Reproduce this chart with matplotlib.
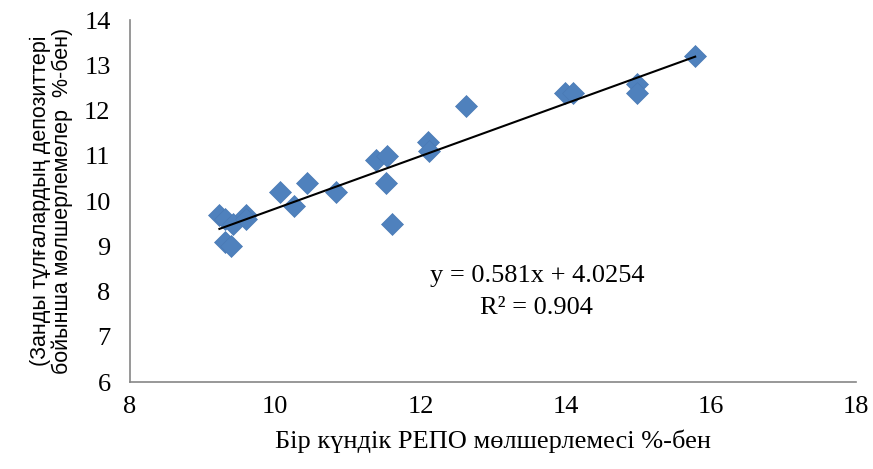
import numpy as np
import matplotlib.pyplot as plt

# overnight REPO rate (%) vs corporate deposit rate (%)
repo = [9.23, 9.3, 9.31, 9.39, 9.42, 9.59, 9.6, 10.06, 10.25, 10.44, 10.84,
        11.38, 11.54, 11.53, 11.6, 12.1, 12.12, 12.62, 13.99, 14.1, 14.98, 14.98, 15.78]
deposit = [9.7, 9.6, 9.1, 9.0, 9.5, 9.7, 9.6, 10.2, 9.9, 10.4, 10.2,
           10.9, 11.0, 10.4, 9.5, 11.3, 11.1, 12.1, 12.4, 12.4, 12.6, 12.4, 13.2]
slope = 0.581
intercept = 4.0254
r2 = 0.904

plt.rcParams['font.family'] = ['Liberation Serif', 'DejaVu Serif']

fig = plt.figure(figsize=(8.73, 4.69), dpi=100)
ax = fig.add_axes([0.149, 0.185, 0.832, 0.772])

ax.scatter(repo, deposit, marker='D', s=125, color='#4f81bd', edgecolors='#4a7ab5',
           linewidths=0.5, zorder=3)

xs = np.array([min(repo), max(repo)])
ax.plot(xs, slope * xs + intercept, color='black', linewidth=1.5, zorder=4)

ax.text(13.6, 8.35, f"y = {slope}x + {intercept}", ha='center', va='center', fontsize=19)
ax.text(13.6, 7.65, f"R² = {r2}", ha='center', va='center', fontsize=19)

ax.set_xlim(8, 18)
ax.set_ylim(6, 14)
ax.set_xticks(np.arange(8, 19, 2))
ax.set_yticks(np.arange(6, 15, 1))
ax.tick_params(length=0, labelsize=19, pad=10)
ax.tick_params(axis='y', pad=14)

for s in ['top', 'right']:
    ax.spines[s].set_visible(False)
for s in ['left', 'bottom']:
    ax.spines[s].set_color('#868686')
    ax.spines[s].set_linewidth(1.2)

ax.set_xlabel("Бір күндік РЕПО мөлшерлемесі %-бен", fontsize=19, labelpad=8)
ax.set_ylabel("(Занды тұлғалардың депозиттері\nбойынша мөлшерлемелер  %-бен)",
              fontsize=15.5, family=['Liberation Sans', 'DejaVu Sans'], labelpad=8,
              linespacing=1.05)

fig.savefig("out.png", dpi=100)
